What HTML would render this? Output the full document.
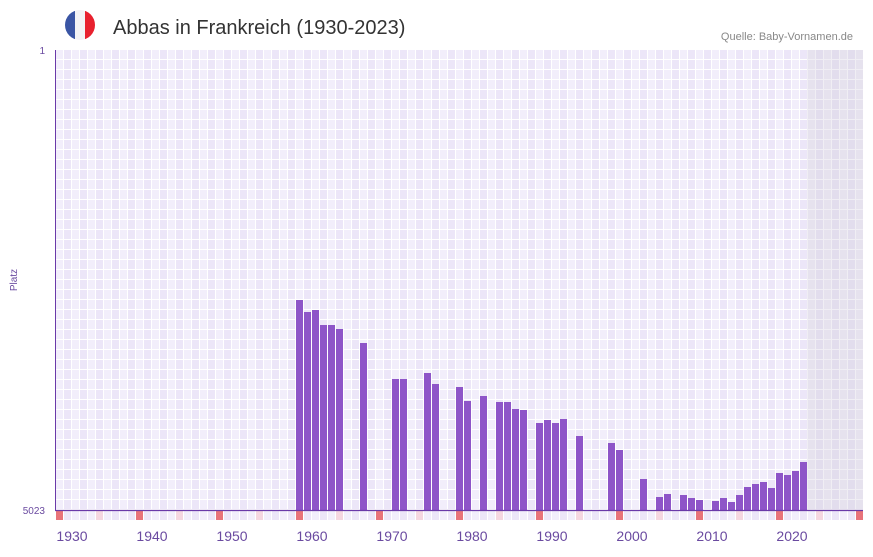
<!DOCTYPE html>
<html><head><meta charset="utf-8"><style>
body{margin:0;background:#fff;width:873px;height:552px;overflow:hidden;font-family:"Liberation Sans",sans-serif}
</style></head><body>
<svg width="873" height="552" xmlns="http://www.w3.org/2000/svg" font-family="Liberation Sans, sans-serif">
<defs>
<pattern id="g" x="55" y="50" width="16" height="10" patternUnits="userSpaceOnUse">
<rect width="16" height="10" fill="#fff"/>
<rect x="1" y="0" width="7" height="9" fill="#f2eefb"/>
<rect x="9" y="0" width="7" height="9" fill="#ece6f8"/>
</pattern>
<pattern id="g2" x="55" y="50" width="16" height="10" patternUnits="userSpaceOnUse">
<rect width="16" height="10" fill="#f0eef4"/>
<rect x="1" y="0" width="7" height="9" fill="#e6e2ee"/>
<rect x="9" y="0" width="7" height="9" fill="#e2dded"/>
</pattern>
<pattern id="s" x="55" y="510" width="16" height="10" patternUnits="userSpaceOnUse">
<rect width="16" height="10" fill="#fff"/>
<rect x="1" y="1" width="7" height="9" fill="#f2eefb"/>
<rect x="9" y="1" width="7" height="9" fill="#ece6f8"/>
</pattern>
<clipPath id="c"><circle cx="80" cy="25" r="15"/></clipPath>
</defs>
<g clip-path="url(#c)"><rect x="65" y="10" width="10" height="30" fill="#3a55a4"/><rect x="75" y="10" width="10" height="30" fill="#f3f3f5"/><rect x="85" y="10" width="10" height="30" fill="#e8212e"/></g>
<text x="113" y="34" font-size="20" fill="#333">Abbas in Frankreich (1930-2023)</text>
<text x="853" y="40" font-size="11" fill="#888" text-anchor="end">Quelle: Baby-Vornamen.de</text>
<rect x="55" y="50" width="808" height="460" fill="url(#g)"/>
<rect x="807" y="50" width="56" height="460" fill="url(#g2)"/>
<rect x="55" y="510" width="808" height="10" fill="url(#s)"/>
<g fill="#e8737a">
<rect x="56" y="511" width="7" height="9"/><rect x="136" y="511" width="7" height="9"/><rect x="216" y="511" width="7" height="9"/><rect x="296" y="511" width="7" height="9"/><rect x="376" y="511" width="7" height="9"/><rect x="456" y="511" width="7" height="9"/><rect x="536" y="511" width="7" height="9"/><rect x="616" y="511" width="7" height="9"/><rect x="696" y="511" width="7" height="9"/><rect x="776" y="511" width="7" height="9"/><rect x="856" y="511" width="7" height="9"/>
</g>
<g fill="#f5d6e0">
<rect x="96" y="511" width="7" height="9"/><rect x="176" y="511" width="7" height="9"/><rect x="256" y="511" width="7" height="9"/><rect x="336" y="511" width="7" height="9"/><rect x="416" y="511" width="7" height="9"/><rect x="496" y="511" width="7" height="9"/><rect x="576" y="511" width="7" height="9"/><rect x="656" y="511" width="7" height="9"/><rect x="736" y="511" width="7" height="9"/><rect x="816" y="511" width="7" height="9"/>
</g>
<g fill="#8e55c8">
<rect x="296" y="300" width="7" height="210"/>
<rect x="304" y="312" width="7" height="198"/>
<rect x="312" y="310" width="7" height="200"/>
<rect x="320" y="325" width="7" height="185"/>
<rect x="328" y="325" width="7" height="185"/>
<rect x="336" y="329" width="7" height="181"/>
<rect x="360" y="343" width="7" height="167"/>
<rect x="392" y="379" width="7" height="131"/>
<rect x="400" y="379" width="7" height="131"/>
<rect x="424" y="373" width="7" height="137"/>
<rect x="432" y="384" width="7" height="126"/>
<rect x="456" y="387" width="7" height="123"/>
<rect x="464" y="401" width="7" height="109"/>
<rect x="480" y="396" width="7" height="114"/>
<rect x="496" y="402" width="7" height="108"/>
<rect x="504" y="402" width="7" height="108"/>
<rect x="512" y="409" width="7" height="101"/>
<rect x="520" y="410" width="7" height="100"/>
<rect x="536" y="423" width="7" height="87"/>
<rect x="544" y="420" width="7" height="90"/>
<rect x="552" y="423" width="7" height="87"/>
<rect x="560" y="419" width="7" height="91"/>
<rect x="576" y="436" width="7" height="74"/>
<rect x="608" y="443" width="7" height="67"/>
<rect x="616" y="450" width="7" height="60"/>
<rect x="640" y="479" width="7" height="31"/>
<rect x="656" y="497" width="7" height="13"/>
<rect x="664" y="494" width="7" height="16"/>
<rect x="680" y="495" width="7" height="15"/>
<rect x="688" y="498" width="7" height="12"/>
<rect x="696" y="500" width="7" height="10"/>
<rect x="712" y="501" width="7" height="9"/>
<rect x="720" y="498" width="7" height="12"/>
<rect x="728" y="502" width="7" height="8"/>
<rect x="736" y="495" width="7" height="15"/>
<rect x="744" y="487" width="7" height="23"/>
<rect x="752" y="484" width="7" height="26"/>
<rect x="760" y="482" width="7" height="28"/>
<rect x="768" y="488" width="7" height="22"/>
<rect x="776" y="473" width="7" height="37"/>
<rect x="784" y="475" width="7" height="35"/>
<rect x="792" y="471" width="7" height="39"/>
<rect x="800" y="462" width="7" height="48"/>
</g>
<line x1="55.5" y1="50" x2="55.5" y2="510" stroke="#6a3aa8" stroke-width="1"/>
<line x1="55" y1="510.5" x2="863" y2="510.5" stroke="#6a3aa8" stroke-width="1.2"/>
<g fill="#6a4aa0" font-size="10" text-anchor="end">
<text x="45" y="54">1</text>
<text x="45" y="514">5023</text>
</g>
<text x="17" y="280" font-size="10" fill="#6a4aa0" text-anchor="middle" transform="rotate(-90 17 280)">Platz</text>
<g fill="#6a4aa0" font-size="14" text-anchor="middle">
<text x="72" y="541">1930</text><text x="152" y="541">1940</text><text x="232" y="541">1950</text><text x="312" y="541">1960</text><text x="392" y="541">1970</text><text x="472" y="541">1980</text><text x="552" y="541">1990</text><text x="632" y="541">2000</text><text x="712" y="541">2010</text><text x="792" y="541">2020</text>
</g>
</svg>
</body></html>
